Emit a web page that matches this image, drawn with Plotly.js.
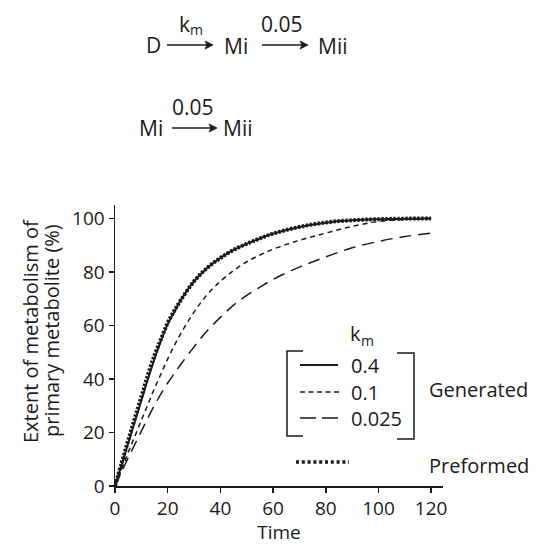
<!DOCTYPE html>
<html>
<head>
<meta charset="utf-8">
<script src="https://cdn.plot.ly/plotly-3.0.1.min.js"></script>
<style>
  html, body { margin: 0; padding: 0; background: #ffffff; }
  #chart { width: 536px; height: 545px; }
</style>
</head>
<body>
<div id="chart"></div>
<script>
// ---- data ----
const timePoints = [0, 2.5, 5, 7.5, 10, 12.5, 15, 17.5, 20, 22.5, 25, 30, 35, 40, 45, 50, 55, 60, 70, 80, 90, 100, 110, 120];
const generatedKm04 = [0, 8, 16, 24, 32, 40, 47.5, 54.5, 60.5, 65, 69.5, 76.5, 81.5, 85.2, 88.2, 90.5, 92.5, 94.3, 96.8, 98.4, 99.3, 99.7, 99.9, 100];
const generatedKm01 = [0, 6.2, 12.5, 18.5, 24.5, 30.5, 36.5, 42, 47.5, 52.5, 57, 65, 71.5, 76.5, 80.5, 83.8, 86.3, 88.5, 91.8, 94.5, 97, 98.8, 99.6, 100];
const generatedKm0025 = [0, 5.3, 10.5, 15.5, 20.5, 25.5, 30.2, 34.5, 38.5, 42, 45.5, 52, 58, 63, 67.6, 71.2, 74.3, 77.2, 81.8, 85.6, 89, 91.4, 93.2, 94.5];
const preformed = [0, 8.5, 17, 25.2, 33.3, 41.5, 48.8, 55, 61, 65.5, 69.5, 76.5, 81.5, 85.2, 88.2, 90.5, 92.5, 94.3, 96.8, 98.5, 99.3, 99.7, 99.9, 100];
const kmLabels = ['0.4', '0.1', '0.025'];
const xTicks = [0, 20, 40, 60, 80, 100, 120];
const yTicks = [0, 20, 40, 60, 80, 100];

// ---- layout helpers (pixel -> paper) ----
const W = 536, H = 545;
const M = {l: 115, r: 93, t: 205, b: 59};
const PW = W - M.l - M.r, PH = H - M.t - M.b;
const px = x => (x - M.l) / PW;
const py = y => (H - M.b - y) / PH;
const ink = '#1a1a1a';
const FONT = 'Open Sans, Noto Sans, DejaVu Sans, sans-serif';

const traces = [
  {x: timePoints, y: generatedKm0025, mode: 'lines', line: {color: ink, width: 1.5, dash: '12px,7px', shape: 'spline'}, name: 'k_m 0.025', showlegend: false},
  {x: timePoints, y: generatedKm01, mode: 'lines', line: {color: ink, width: 1.5, dash: '5px,4px', shape: 'spline'}, name: 'k_m 0.1', showlegend: false},
  {x: timePoints, y: generatedKm04, mode: 'lines', line: {color: ink, width: 2, shape: 'spline'}, name: 'k_m 0.4', showlegend: false},
  {x: timePoints, y: preformed, mode: 'lines', line: {color: ink, width: 4, dash: '2.4px,1.6px', shape: 'spline'}, name: 'Preformed', showlegend: false}
];

function txt(text, x, y, size, opts) {
  return Object.assign({
    text: text, xref: 'paper', yref: 'paper', x: px(x), y: py(y),
    showarrow: false, xanchor: 'center', yanchor: 'middle',
    font: {family: FONT, size: size, color: ink}
  }, opts || {});
}

const SCHEME = 21, LEG = 20, SUB = 14;
const annotations = [
  // reaction scheme 1
  txt('D', 153.5, 45, SCHEME),
  txt('k', 184, 24, SCHEME),
  txt('m', 196.5, 30, SUB),
  txt('Mi', 235.5, 46, SCHEME),
  txt('0.05', 282, 24, SCHEME),
  txt('Mii', 333, 46, SCHEME),
  // reaction scheme 2
  txt('Mi', 150.5, 128, SCHEME),
  txt('0.05', 193, 107, SCHEME),
  txt('Mii', 238, 128, SCHEME),
  // legend
  txt('k', 355, 333, LEG),
  txt('m', 367, 340, SUB),
  txt(kmLabels[0], 349, 365, LEG, {xanchor: 'left'}),
  txt(kmLabels[1], 349, 392, LEG, {xanchor: 'left'}),
  txt(kmLabels[2], 349, 418, LEG, {xanchor: 'left'}),
  txt('Generated', 427, 389, LEG, {xanchor: 'left'}),
  txt('Preformed', 427, 465, LEG, {xanchor: 'left'}),
  // y axis title (two rotated lines)
  txt('Extent of metabolism of', 30, 331, LEG, {textangle: -90}),
  txt('primary metabolite (%)', 51, 331, LEG, {textangle: -90})
];

function pathPaper(pts, close) {
  return pts.map((p, i) => (i ? 'L' : 'M') + px(p[0]).toFixed(4) + ',' + py(p[1]).toFixed(4)).join(' ') + (close ? ' Z' : '');
}
function seg(x0, x1, y, width, dash) {
  return {type: 'line', xref: 'paper', yref: 'paper', x0: px(x0), x1: px(x1), y0: py(y), y1: py(y),
          line: {color: ink, width: width, dash: dash}};
}
function arrowShapes(x0, x1, y) {
  return [
    seg(x0, x1 - 4, y, 1.6, 'solid'),
    {type: 'path', xref: 'paper', yref: 'paper', path: pathPaper([[x1, y], [x1 - 8, y - 4], [x1 - 6, y], [x1 - 8, y + 4]], true),
     fillcolor: ink, line: {color: ink, width: 0.8}}
  ];
}
const shapes = [
  ...arrowShapes(167, 213, 45),
  ...arrowShapes(262, 308, 45),
  ...arrowShapes(172, 217, 128),
  {type: 'path', xref: 'paper', yref: 'paper', path: pathPaper([[303, 351], [287, 351], [287, 436], [303, 436]]), line: {color: ink, width: 1.5}},
  {type: 'path', xref: 'paper', yref: 'paper', path: pathPaper([[397, 353], [414, 353], [414, 439], [397, 439]]), line: {color: ink, width: 1.5}},
  seg(300, 338, 365, 2, 'solid'),
  seg(300, 340, 392, 1.5, '5px,3.5px'),
  seg(300, 338, 418, 1.5, '16px,6px'),
  seg(296, 349, 462, 3.4, '3px,2.8px')
];

const axisCommon = {
  showgrid: false, zeroline: false, showline: true, linecolor: ink, linewidth: 1.5,
  ticks: 'outside', ticklen: 5, tickwidth: 1.5, tickcolor: ink,
  tickfont: {family: FONT, size: 19, color: ink}, fixedrange: true
};

const layout = {
  width: W, height: H, margin: M,
  paper_bgcolor: '#ffffff', plot_bgcolor: '#ffffff',
  showlegend: false,
  xaxis: Object.assign({}, axisCommon, {
    range: [0, 124.5], tickvals: xTicks, ticktext: xTicks.map(String),
    title: {text: 'Time', font: {family: FONT, size: 19, color: ink}, standoff: 5}
  }),
  yaxis: Object.assign({}, axisCommon, {
    range: [0, 105], tickvals: yTicks, ticktext: yTicks.map(String)
  }),
  annotations: annotations,
  shapes: shapes
};

Plotly.newPlot('chart', traces, layout, {staticPlot: true, displayModeBar: false}).then(function (gd) {
  // drop empty placeholder text nodes Plotly leaves behind (e.g. unused titles)
  gd.querySelectorAll('text').forEach(function (t) {
    if (!t.textContent || !t.textContent.trim()) t.parentNode.removeChild(t);
  });
});
</script>
</body>
</html>
